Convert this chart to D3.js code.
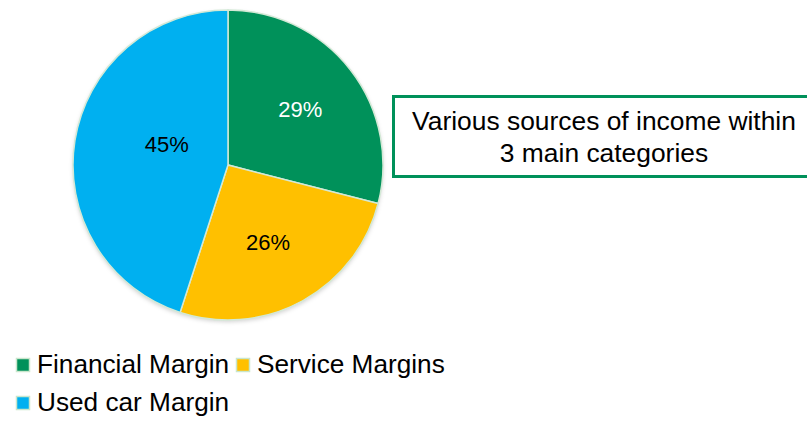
<!doctype html>
<html>
<head>
  <meta charset='utf-8'>
  <style>
    body { margin: 0; background: #fff; }
    svg { font-family: 'Liberation Sans', Arial, sans-serif; display: block; }
    .arc path { stroke: #d3e9d6; stroke-width: 1.5; }
    .arc text { text-anchor: middle; font-size: 22px; }
    .legend text { font-size: 26.2px; fill: #000; }
    .note text { font-size: 26.4px; text-anchor: middle; fill: #000; }
  </style>
</head>

<body>

  <svg width='807' height='422'></svg>
  <script src='https://cdnjs.cloudflare.com/ajax/libs/d3/7.8.5/d3.min.js'></script>

  <script>
    var categories = ['Financial Margin', 'Service Margins', 'Used car Margin'];
    var shares = [29, 26, 45];
    var labels = ['29%', '26%', '45%'];
    var noteLines = ['Various sources of income within', '3 main categories'];

    var svg = d3.select('svg');
    var radius = 155;

    var color = d3.scaleOrdinal()
                  .domain(categories)
                  .range(['#00915a', '#ffc000', '#00b0f0']);
    var labelColor = d3.scaleOrdinal()
                       .domain(categories)
                       .range(['#ffffff', '#000000', '#000000']);

    var data = categories.map(function(c, i) {
      return { category: c, value: shares[i], label: labels[i] };
    });

    // soft shadow under the pie
    var defs = svg.append('defs');
    var filter = defs.append('filter').attr('id', 'shadow')
                     .attr('x', '-10%').attr('y', '-10%')
                     .attr('width', '120%').attr('height', '125%');
    filter.append('feDropShadow')
          .attr('dx', 0).attr('dy', 2)
          .attr('stdDeviation', 2)
          .attr('flood-color', '#000')
          .attr('flood-opacity', 0.18);

    var g = svg.append('g').attr('transform', 'translate(228,165)');

    var pie = d3.pie()
                .sort(null)
                .value(function(d) { return d.value; });

    var path = d3.arc()
                 .outerRadius(radius)
                 .innerRadius(0);

    var label = d3.arc()
                  .outerRadius(radius * 1.18)
                  .innerRadius(0);

    // excel "best fit" moves labels a little off the centroid
    var nudge = { 'Used car Margin': [29, -7], 'Service Margins': [-4, -3] };

    var arc = g.selectAll('.arc')
               .data(pie(data))
               .enter().append('g')
                       .attr('class', 'arc');

    g.insert('circle', '.arc')
     .attr('r', radius)
     .attr('fill', '#fff')
     .attr('filter', 'url(#shadow)');

    arc.append('path')
       .attr('d', path)
       .attr('fill', function(d) { return color(d.data.category); });

    arc.append('text')
       .attr('transform', function(d) {
         var c = label.centroid(d);
         var n = nudge[d.data.category] || [0, 0];
         return 'translate(' + (c[0] + n[0]) + ',' + (c[1] + n[1]) + ')';
       })
       .attr('dy', '0.36em')
       .attr('fill', function(d) { return labelColor(d.data.category); })
       .text(function(d) { return d.data.label; });

    // text box on the right
    var note = svg.append('g').attr('class', 'note');
    note.append('rect')
        .attr('x', 393.5).attr('y', 96.5)
        .attr('width', 422).attr('height', 80)
        .attr('fill', '#fff')
        .attr('stroke', '#00915a')
        .attr('stroke-width', 3);
    note.selectAll('text')
        .data(noteLines)
        .enter().append('text')
                .attr('x', 604)
                .attr('y', function(d, i) { return 130 + i * 32; })
                .text(function(d) { return d; });

    // legend
    var legendPos = [[16, 373], [236, 373], [16, 411]];
    var legend = svg.selectAll('.legend')
                    .data(categories)
                    .enter().append('g')
                            .attr('class', 'legend')
                            .attr('transform', function(d, i) {
                              return 'translate(' + legendPos[i][0] + ',' + legendPos[i][1] + ')';
                            });
    legend.append('rect')
          .attr('x', 0.5).attr('y', -14.5)
          .attr('width', 13).attr('height', 13)
          .attr('fill', function(d) { return color(d); })
          .attr('stroke', '#c9e6cc')
          .attr('stroke-width', 1.5);
    legend.append('text')
          .attr('x', 21)
          .attr('y', 0)
          .text(function(d) { return d; });
  </script>
</body>

</html>
